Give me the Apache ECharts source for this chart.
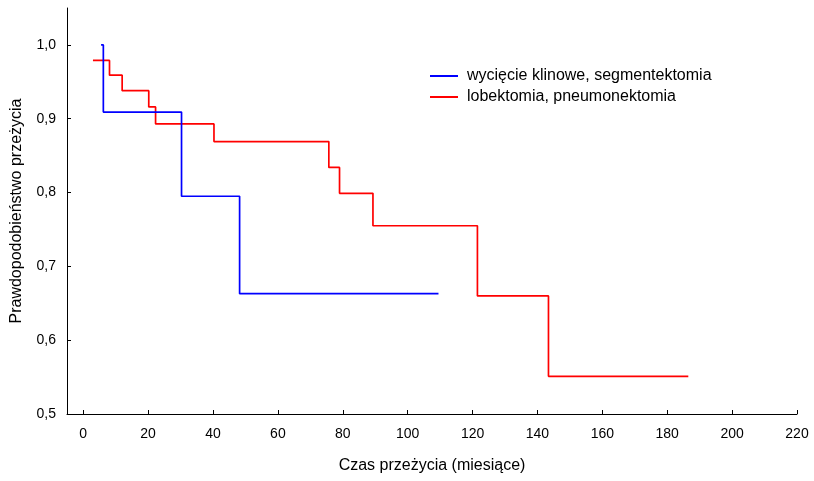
<!DOCTYPE html>
<html><head><meta charset="utf-8">
<script src="https://cdn.jsdelivr.net/npm/echarts@6/dist/echarts.min.js"></script>
<style>html,body{margin:0;padding:0;background:#fff}#c{width:814px;height:481px}</style>
</head><body><div id="c"></div>
<script>
var seriesNames = ['wycięcie klinowe, segmentektomia', 'lobektomia, pneumonektomia'];
var blueData = [[5.5,1.0],[6.2,0.909],[30.3,0.795],[48.2,0.663],[109.5,0.663]];
var redData = [[3,0.979],[8.1,0.959],[12,0.938],[20.2,0.916],[22.3,0.893],[40.3,0.869],[75.7,0.834],[79,0.799],[89.3,0.755],[121.5,0.660],[143.4,0.551],[186.5,0.551]];
var xTicks = [0,20,40,60,80,100,120,140,160,180,200,220];
var yTicks = [0.5,0.6,0.7,0.8,0.9,1.0];
var font = 'Liberation Sans, Arial, sans-serif';
var chart = echarts.init(document.getElementById('c'));
chart.setOption({
  animation:false,
  backgroundColor:'#fff',
  grid:{left:67,right:17,top:8,bottom:67,containLabel:false},
  legend:{
    left:430, top:68, padding:0, orient:'vertical', itemGap:5, itemWidth:28, itemHeight:2,
    icon:'rect',
    textStyle:{fontFamily:font,fontSize:16,color:'#000',padding:[0,0,0,4]},
    data:seriesNames
  },
  xAxis:{
    type:'value', min:-5, max:220,
    name:'Czas przeżycia (miesiące)', nameLocation:'middle', nameGap:44,
    nameTextStyle:{fontFamily:font,fontSize:16,color:'#000'},
    axisLine:{show:true,onZero:false,lineStyle:{color:'#000',width:1}},
    axisTick:{show:true,inside:true,length:4,customValues:xTicks,lineStyle:{color:'#000'}},
    axisLabel:{customValues:xTicks,fontFamily:font,fontSize:14,color:'#000',margin:13},
    splitLine:{show:false}
  },
  yAxis:{
    type:'value', min:0.5, max:1.05,
    name:'Prawdopodobieństwo przeżycia', nameLocation:'middle', nameGap:42,
    nameTextStyle:{fontFamily:font,fontSize:16,color:'#000'},
    axisLine:{show:true,onZero:false,lineStyle:{color:'#000',width:1}},
    axisTick:{show:true,inside:true,length:4,customValues:yTicks,lineStyle:{color:'#000'}},
    axisLabel:{customValues:yTicks,fontFamily:font,fontSize:14,color:'#000',margin:11,
      formatter:function(v){return v.toFixed(1).replace('.',',');}},
    splitLine:{show:false}
  },
  series:[
    {name:seriesNames[0],type:'line',step:'end',data:blueData,showSymbol:false,symbol:'none',
     lineStyle:{color:'#0000ff',width:1.7},itemStyle:{color:'#0000ff'},z:3},
    {name:seriesNames[1],type:'line',step:'end',data:redData,showSymbol:false,symbol:'none',
     lineStyle:{color:'#ff0000',width:1.7},itemStyle:{color:'#ff0000'},z:2}
  ]
});
</script></body></html>
